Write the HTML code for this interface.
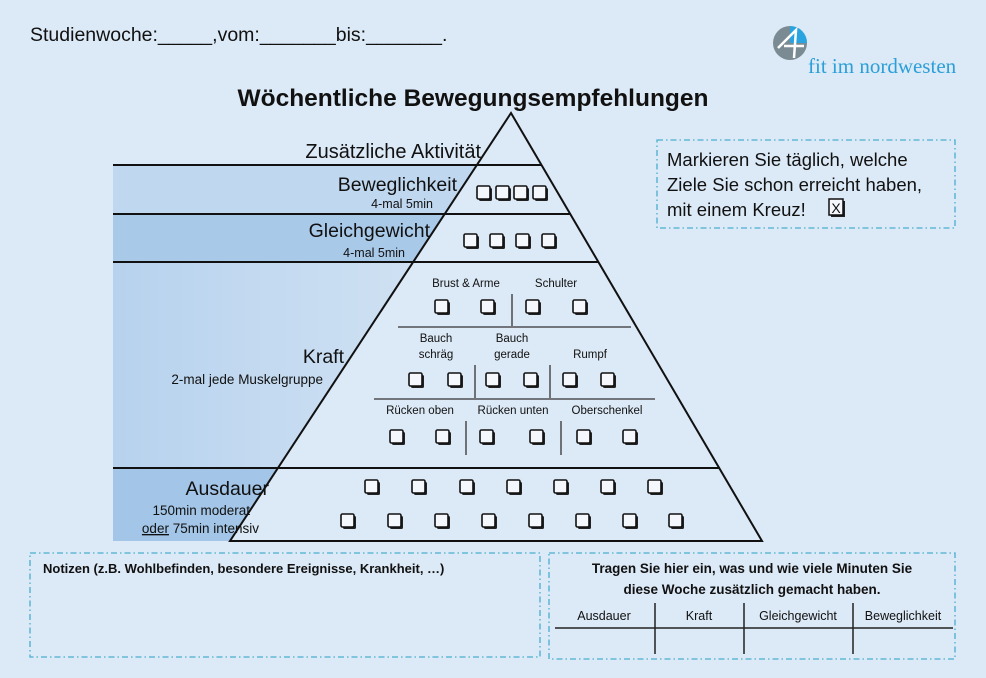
<!DOCTYPE html>
<html><head><meta charset="utf-8"><style>
html,body{margin:0;padding:0;background:#dce9f6;}
svg{display:block;font-family:"Liberation Sans",sans-serif;}
</style></head><body>
<svg width="986" height="678" viewBox="0 0 986 678" xmlns="http://www.w3.org/2000/svg">
<defs>
<linearGradient id="kg" x1="0" y1="0" x2="1" y2="0"><stop offset="0" stop-color="#b7d2ee"/><stop offset="1" stop-color="#cfe1f3"/></linearGradient>
<g id="cb"><rect x="-5" y="-5" width="13" height="13" rx="1.5" fill="#222"/><rect x="-7" y="-7" width="13" height="13" rx="1.5" fill="#f4f7fb" stroke="#111" stroke-width="1.6"/></g>
</defs>
<rect width="986" height="678" fill="#dce9f6"/>
<!-- bands -->
<polygon points="113,166 477,166 445,214 113,214" fill="#c0d8ef"/>
<polygon points="113,214 445,214 413,262 113,262" fill="#a9c9e9"/>
<polygon points="113,262 413,262 277,468 113,468" fill="url(#kg)"/>
<polygon points="113,468 277,468 230,541 113,541" fill="#a3c5e7"/>
<!-- pyramid -->
<polygon points="511,113 762,541 230,541" fill="#dce9f6" stroke="#111" stroke-width="2"/>
<g stroke="#111" stroke-width="2">
<line x1="113" y1="165" x2="542" y2="165"/>
<line x1="113" y1="214" x2="571" y2="214"/>
<line x1="113" y1="262" x2="599" y2="262"/>
<line x1="113" y1="468" x2="720" y2="468"/>
</g>
<g stroke="#333" stroke-width="1.3">
<line x1="398" y1="327" x2="631" y2="327"/>
<line x1="374" y1="399" x2="655" y2="399"/>
<line x1="512" y1="294" x2="512" y2="326"/>
<line x1="475" y1="365" x2="475" y2="398"/>
<line x1="550" y1="365" x2="550" y2="398"/>
<line x1="466" y1="421" x2="466" y2="455"/>
<line x1="561" y1="421" x2="561" y2="455"/>
</g>
<!-- checkboxes -->
<use href="#cb" x="484" y="193"/><use href="#cb" x="503" y="193"/><use href="#cb" x="521" y="193"/><use href="#cb" x="540" y="193"/>
<use href="#cb" x="471" y="241"/><use href="#cb" x="497" y="241"/><use href="#cb" x="523" y="241"/><use href="#cb" x="549" y="241"/>
<use href="#cb" x="442" y="307"/><use href="#cb" x="488" y="307"/><use href="#cb" x="533" y="307"/><use href="#cb" x="580" y="307"/>
<use href="#cb" x="416" y="380"/><use href="#cb" x="455" y="380"/><use href="#cb" x="493" y="380"/><use href="#cb" x="531" y="380"/><use href="#cb" x="570" y="380"/><use href="#cb" x="608" y="380"/>
<use href="#cb" x="397" y="437"/><use href="#cb" x="443" y="437"/><use href="#cb" x="487" y="437"/><use href="#cb" x="537" y="437"/><use href="#cb" x="584" y="437"/><use href="#cb" x="630" y="437"/>
<use href="#cb" x="372" y="487"/><use href="#cb" x="419" y="487"/><use href="#cb" x="467" y="487"/><use href="#cb" x="514" y="487"/><use href="#cb" x="561" y="487"/><use href="#cb" x="608" y="487"/><use href="#cb" x="655" y="487"/>
<use href="#cb" x="348" y="521"/><use href="#cb" x="395" y="521"/><use href="#cb" x="442" y="521"/><use href="#cb" x="489" y="521"/><use href="#cb" x="536" y="521"/><use href="#cb" x="583" y="521"/><use href="#cb" x="630" y="521"/><use href="#cb" x="676" y="521"/>
<!-- texts -->
<text x="30" y="41" font-size="19.5" fill="#111">Studienwoche:_____,vom:_______bis:_______.</text>
<text x="473" y="106" font-size="24.5" font-weight="bold" text-anchor="middle" fill="#111">Wöchentliche Bewegungsempfehlungen</text>
<g text-anchor="end" fill="#111">
<text x="481" y="158" font-size="20">Zusätzliche Aktivität</text>
<text x="457" y="191" font-size="19.5">Beweglichkeit</text>
<text x="433" y="208" font-size="12.5">4-mal 5min</text>
<text x="430" y="237" font-size="19.5">Gleichgewicht</text>
<text x="405" y="257" font-size="12.5">4-mal 5min</text>
<text x="344" y="363" font-size="19.5">Kraft</text>
<text x="323" y="384" font-size="13.5">2-mal jede Muskelgruppe</text>
<text x="269" y="495" font-size="19.5">Ausdauer</text>
<text x="250" y="515" font-size="13.5">150min moderat</text>
<text x="259" y="533" font-size="13.5"><tspan text-decoration="underline">oder</tspan> 75min intensiv</text>
</g>
<g font-size="11.5" fill="#111" text-anchor="middle">
<text x="466" y="287">Brust &amp; Arme</text>
<text x="556" y="287">Schulter</text>
<text x="436" y="342">Bauch</text><text x="436" y="358">schräg</text>
<text x="512" y="342">Bauch</text><text x="512" y="358">gerade</text>
<text x="590" y="358">Rumpf</text>
<text x="420" y="414">Rücken oben</text>
<text x="513" y="414">Rücken unten</text>
<text x="607" y="414">Oberschenkel</text>
</g>
<!-- logo -->
<circle cx="790" cy="43" r="17" fill="#7b8b93"/>
<path d="M790,26 A17,17 0 0 1 807,43 L790,43 Z" fill="#2aa4e0"/>
<path d="M778,48 L796,30 L794,58 M784,46 L804,46" stroke="#fff" stroke-width="2.5" fill="none"/>
<text x="808" y="73" font-family="Liberation Serif,serif" font-size="21" fill="#2a9fd8">fit im nordwesten</text>
<!-- markieren box -->
<rect x="657" y="140" width="298" height="88" fill="none" stroke="#4aaed0" stroke-width="1.3" stroke-dasharray="6,3,1.5,3"/>
<g font-size="18.5" fill="#111">
<text x="667" y="166">Markieren Sie täglich, welche</text>
<text x="667" y="191">Ziele Sie schon erreicht haben,</text>
<text x="667" y="216">mit einem Kreuz!</text>
</g>
<rect x="831" y="201" width="14" height="16" fill="#222"/><rect x="829" y="199" width="14" height="16" fill="#f4f7fb" stroke="#111" stroke-width="1.5"/>
<text x="836" y="213" font-size="14" text-anchor="middle" fill="#111">X</text>
<!-- notes box -->
<rect x="30" y="553" width="510" height="104" fill="none" stroke="#4aaed0" stroke-width="1.3" stroke-dasharray="6,3,1.5,3"/>
<text x="43" y="573" font-size="13" font-weight="bold" fill="#111">Notizen (z.B. Wohlbefinden, besondere Ereignisse, Krankheit, …)</text>
<!-- right box -->
<rect x="549" y="553" width="406" height="106" fill="none" stroke="#4aaed0" stroke-width="1.3" stroke-dasharray="6,3,1.5,3"/>
<g font-size="13.5" font-weight="bold" fill="#111" text-anchor="middle">
<text x="752" y="573">Tragen Sie hier ein, was und wie viele Minuten Sie</text>
<text x="752" y="594">diese Woche zusätzlich gemacht haben.</text>
</g>
<g font-size="12.5" fill="#111" text-anchor="middle">
<text x="604" y="620">Ausdauer</text><text x="699" y="620">Kraft</text><text x="798" y="620">Gleichgewicht</text><text x="903" y="620">Beweglichkeit</text>
</g>
<g stroke="#222" stroke-width="1.5">
<line x1="555" y1="628" x2="953" y2="628"/>
<line x1="655" y1="603" x2="655" y2="654"/>
<line x1="744" y1="603" x2="744" y2="654"/>
<line x1="853" y1="603" x2="853" y2="654"/>
</g>
</svg>
</body></html>
